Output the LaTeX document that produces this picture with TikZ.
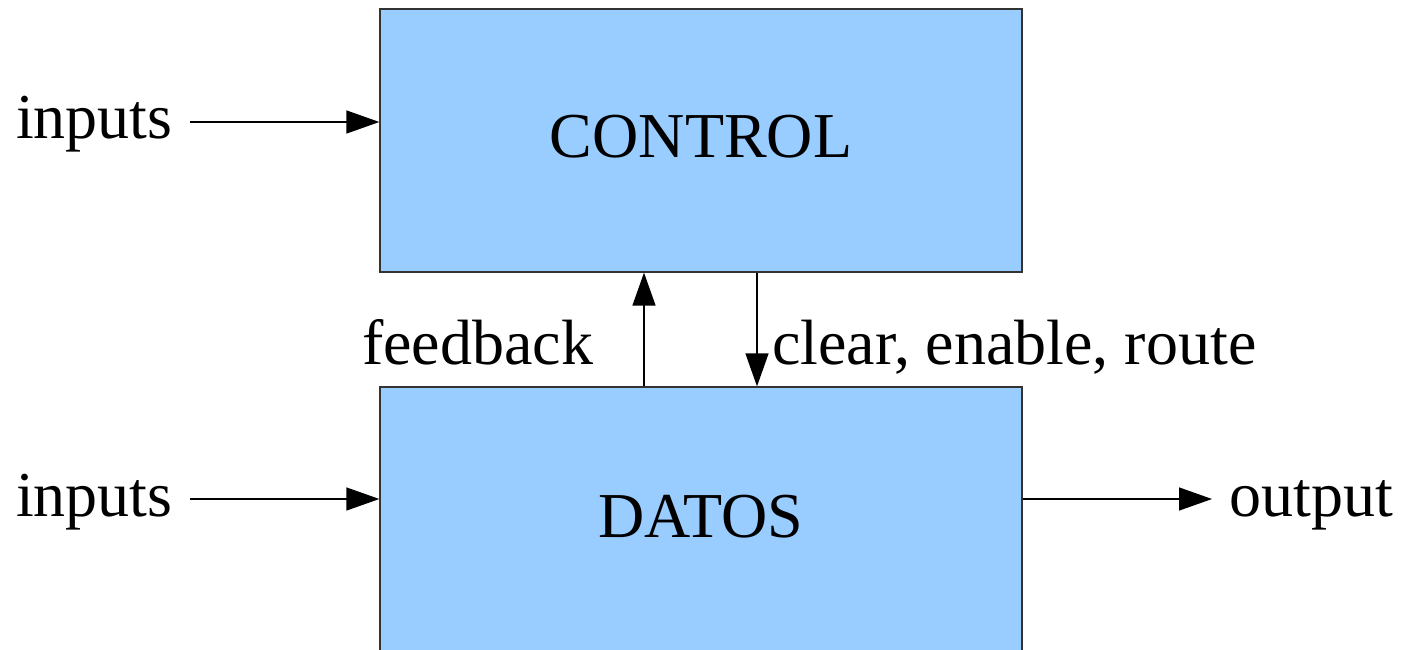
\documentclass[tikz,border=0pt]{standalone}
\usepackage{fontspec}
\setmainfont{Liberation Serif}
\usetikzlibrary{arrows.meta}
\definecolor{boxblue}{HTML}{99CCFF}
\definecolor{edgegray}{HTML}{333333}
\tikzset{
  blockbox/.style={draw=edgegray, line width=1.3pt, fill=boxblue, inner sep=0pt, text depth=8pt, minimum width=642pt, minimum height=263pt, font=\fontsize{64}{70}\selectfont},
  lbl/.style={inner sep=0pt, font=\fontsize{64}{70}\selectfont},
  conn/.style={line width=1.4pt, -{Triangle[length=33pt,width=23pt]}}
}
\begin{document}
\begin{tikzpicture}[x=1pt,y=-1pt]
\useasboundingbox (0,0) rectangle (1403,650);
\clip (0,0) rectangle (1403,650);
\node[blockbox] (control) at (701,140.5) {CONTROL};
\node[blockbox, minimum height=267pt] (datos) at (701,520.5) {DATOS};
\node[lbl, anchor=base west] (in1) at (16,139) {inputs};
\node[lbl, anchor=base west] (in2) at (16,516) {inputs};
\node[lbl, anchor=base west] (out) at (1229,516) {output};
\node[lbl, anchor=base west] (fb) at (362,364) {feedback};
\node[lbl, anchor=base west] (cer) at (772,364) {clear, enable, route};
\coordinate (s1) at (190,122);
\coordinate (s2) at (190,499);
\coordinate (o1) at (1212,499);
\coordinate (f1) at (644,387);
\coordinate (d1) at (757,272);
\draw[conn] (s1) -- (s1 -| control.west);
\draw[conn] (s2) -- (s2 -| datos.west);
\draw[conn] (o1 -| datos.east) -- (o1);
\draw[conn] (f1 |- datos.north) -- (f1 |- control.south);
\draw[conn] (d1 |- control.south) -- (d1 |- datos.north);
\end{tikzpicture}
\end{document}
